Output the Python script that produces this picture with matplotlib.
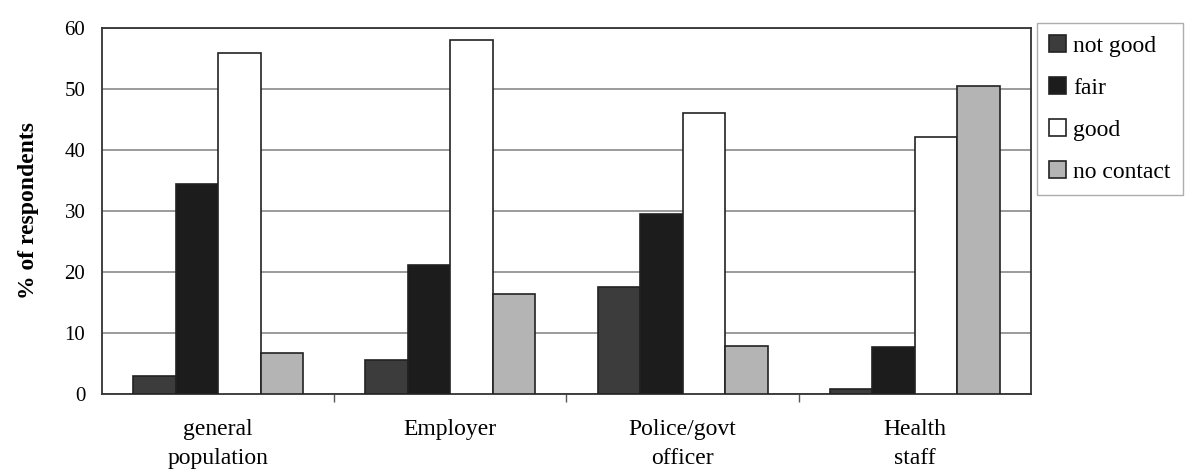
import numpy as np
import matplotlib.pyplot as plt

plt.rcParams['font.family'] = ['Liberation Serif', 'DejaVu Serif']

groups = ['general\npopulation', 'Employer', 'Police/govt\nofficer', 'Health\nstaff']
series = ['not good', 'fair', 'good', 'no contact']
not_good = [3.0, 5.6, 17.5, 0.9]
fair = [34.5, 21.1, 29.5, 7.7]
good = [55.9, 58.0, 46.1, 42.2]
no_contact = [6.8, 16.4, 7.9, 50.4]
colors = ['#3c3c3c', '#1c1c1c', '#ffffff', '#b4b4b4']

fig = plt.figure(figsize=(11.89, 4.73), dpi=100)
ax = fig.add_axes([0.0858, 0.167, 0.7813, 0.774])

x = np.arange(len(groups))
w = 0.183
for i, (vals, c, name) in enumerate(zip([not_good, fair, good, no_contact], colors, series)):
    ax.bar(x + (i - 1.5) * w, vals, w, color=c, edgecolor='#222222',
           linewidth=1.2, label=name, zorder=3)

ax.set_xlim(-0.5, 3.5)
ax.set_ylim(0, 60)
ax.set_yticks(range(0, 61, 10))
ax.yaxis.grid(True, color='#8a8a8a', linewidth=1.2, zorder=0)
ax.tick_params(axis='y', length=0, labelsize=15, pad=12)
ax.set_xticks(x)
ax.set_xticklabels(groups, fontsize=17, linespacing=1.5)
ax.tick_params(axis='x', length=0, pad=18)
# small ticks between the groups
ax.set_xticks(np.arange(0.5, 3.5, 1), minor=True)
ax.tick_params(axis='x', which='minor', length=6, direction='out', width=1, color='#555555')
for s in ax.spines.values():
    s.set_color('#333333')
    s.set_linewidth(1.3)
ax.set_ylabel('% of respondents', fontsize=17, fontweight='bold', labelpad=18)

leg = fig.legend(loc='upper left', bbox_to_anchor=(0.872, 0.951), fontsize=17,
                 frameon=True, fancybox=False, edgecolor='#999999',
                 handlelength=0.75, handleheight=0.75, handletextpad=0.3,
                 labelspacing=0.85, borderpad=0.5, borderaxespad=0)
leg.get_frame().set_linewidth(1.0)

fig.savefig('out.png', dpi=100)
